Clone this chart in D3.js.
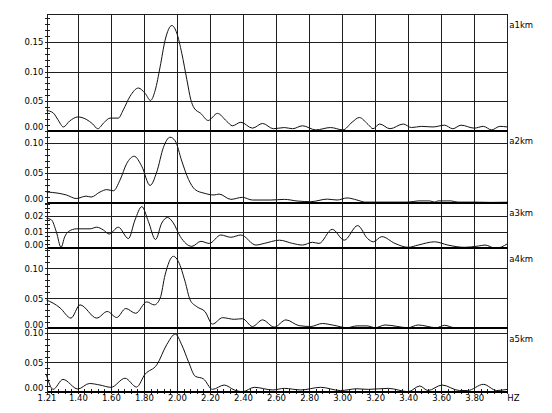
<!DOCTYPE html>
<html>
<head>
<meta charset="utf-8">
<script src="https://cdn.jsdelivr.net/npm/d3@7"></script>
<style>
body { margin: 0; background: #fff; }
text { font-family: "DejaVu Sans"; font-size: 8.5px; fill: #000; }
</style>
</head>
<body>
<div id="chart"></div>
<script>
// Data (Hz, amplitude)
var names = ["a1km", "a2km", "a3km", "a4km", "a5km"];

var a1km = [[1.21,0.034],[1.25,0.030],[1.28,0.018],[1.312,0.006],[1.35,0.016],[1.40,0.023],[1.45,0.019],
	[1.49,0.011],[1.52,0.003],[1.56,0.014],[1.595,0.021],[1.645,0.021],[1.675,0.035],[1.716,0.058],
	[1.766,0.072],[1.807,0.063],[1.84,0.051],[1.868,0.068],[1.898,0.108],[1.928,0.153],[1.969,0.178],
	[1.999,0.165],[2.029,0.131],[2.06,0.086],[2.084,0.052],[2.104,0.038],[2.144,0.029],[2.189,0.017],
	[2.245,0.029],[2.30,0.016],[2.336,0.008],[2.387,0.014],[2.457,0.004],[2.518,0.012],[2.584,0.003],
	[2.65,0.005],[2.70,0.003],[2.76,0.008],[2.84,0.001],[2.93,0.005],[3.005,0.001],[3.06,0.014],
	[3.104,0.022],[3.158,0.010],[3.187,0.003],[3.227,0.011],[3.29,0.003],[3.37,0.011],[3.42,0.005],
	[3.48,0.007],[3.55,0.006],[3.62,0.009],[3.67,0.003],[3.72,0.009],[3.80,0.004],[3.855,0.007],
	[3.905,0.001],[3.955,0.007],[4.00,0.006]];

var a2km = [[1.21,0.018],[1.28,0.016],[1.33,0.013],[1.39,0.007],[1.45,0.011],[1.48,0.0095],[1.534,0.018],
	[1.575,0.022],[1.615,0.020],[1.655,0.038],[1.696,0.066],[1.741,0.078],[1.787,0.061],[1.837,0.029],
	[1.878,0.052],[1.918,0.093],[1.958,0.110],[1.989,0.104],[2.029,0.070],[2.07,0.039],[2.11,0.022],
	[2.164,0.016],[2.225,0.013],[2.255,0.0145],[2.326,0.0056],[2.396,0.009],[2.457,0.0045],[2.568,0.0045],
	[2.65,0.0056],[2.73,0.0028],[2.81,0.0017],[2.91,0.006],[2.97,0.0045],[3.03,0.008],[3.09,0.0045],
	[3.14,0.001],[3.25,0.001],[3.40,0.001],[3.46,0.003],[3.53,0.003],[3.56,0.001],[3.58,0.003],
	[3.66,0.003],[3.70,0.001],[3.80,0.001],[3.90,0.0005],[4.00,0.0008]];

var a3km = [[1.21,0.0185],[1.24,0.0175],[1.27,0.010],[1.298,0.0006],[1.32,0.007],[1.342,0.0103],[1.393,0.012],
	[1.474,0.012],[1.514,0.013],[1.554,0.0113],[1.589,0.0088],[1.645,0.013],[1.706,0.006],[1.746,0.0175],
	[1.787,0.0257],[1.827,0.0165],[1.87,0.0054],[1.908,0.0156],[1.942,0.019],[1.978,0.0156],[2.019,0.0074],
	[2.09,0.0012],[2.145,0.0043],[2.195,0.003],[2.266,0.0082],[2.326,0.0068],[2.387,0.0082],[2.478,0.002],
	[2.528,0.003],[2.62,0.005],[2.70,0.003],[2.76,0.002],[2.82,0.0037],[2.86,0.003],[2.94,0.0117],
	[3.013,0.005],[3.094,0.014],[3.154,0.006],[3.189,0.004],[3.24,0.0072],[3.32,0.003],[3.40,0.0006],
	[3.46,0.002],[3.56,0.004],[3.64,0.002],[3.74,0.0006],[3.825,0.0014],[3.865,0.002],[3.93,0.0],
	[4.00,0.0027]];

var a4km = [[1.21,0.047],[1.25,0.042],[1.292,0.034],[1.358,0.017],[1.413,0.039],[1.514,0.017],[1.578,0.028],
	[1.635,0.018],[1.69,0.033],[1.75,0.025],[1.817,0.044],[1.862,0.039],[1.898,0.050],[1.928,0.089],
	[1.978,0.120],[2.009,0.111],[2.049,0.078],[2.08,0.047],[2.12,0.036],[2.17,0.0277],[2.215,0.007],
	[2.276,0.0177],[2.347,0.015],[2.397,0.016],[2.457,0.003],[2.518,0.014],[2.589,0.002],[2.66,0.014],
	[2.74,0.0044],[2.81,0.003],[2.88,0.008],[2.95,0.005],[3.03,0.001],[3.09,0.004],[3.15,0.004],
	[3.20,0.001],[3.26,0.0055],[3.40,0.001],[3.46,0.0055],[3.57,0.001],[3.62,0.005],[3.68,0.001],
	[4.00,0.001]];

var a5km = [[1.21,0.0285],[1.25,0.004],[1.31,0.021],[1.40,0.0046],[1.47,0.014],[1.534,0.0114],[1.60,0.0075],
	[1.686,0.023],[1.755,0.008],[1.807,0.030],[1.878,0.046],[1.939,0.081],[1.99,0.0985],[2.029,0.080],
	[2.07,0.051],[2.11,0.0265],[2.16,0.022],[2.215,0.004],[2.286,0.0114],[2.347,0.003],[2.397,0.0],
	[2.468,0.0075],[2.58,0.003],[2.65,0.0057],[2.75,0.003],[2.87,0.0075],[2.99,0.002],[3.09,0.005],
	[3.158,0.004],[3.28,0.0057],[3.40,0.0],[3.47,0.0097],[3.52,0.002],[3.605,0.0114],[3.71,0.002],
	[3.76,0.002],[3.855,0.0126],[3.936,0.002],[4.00,0.004]];

var series = [a1km, a2km, a3km, a4km, a5km];

// top of each panel's value range
var yMax = [0.1975, 0.1213, 0.0281, 0.1333, 0.1084];
var yTicks = [[0, 0.05, 0.10, 0.15], [0, 0.05, 0.10], [0, 0.01, 0.02], [0, 0.05, 0.10], [0, 0.05, 0.10]];
var yMinorStep = [0.01, 0.01, 0.0025, 0.01, 0.01];

var xTicks = [1.21, 1.40, 1.60, 1.80, 2.00, 2.20, 2.40, 2.60, 2.80, 3.00, 3.20, 3.40, 3.60, 3.80];
var xMinorStep = 0.04;

// Geometry
var w = 552, h = 413;
var left = 46.5, right = 507.3;
var edges = [14, 130.5, 202.7, 248.3, 328.3, 391.7];
var bottom = edges[edges.length - 1];

var svg = d3.select("#chart")
	.append("svg")
		.attr("width", w)
		.attr("height", h);

svg.append("rect").attr("width", w).attr("height", h).attr("fill", "#fff");

var x = d3.scaleLinear()
	.domain([1.21, 4.00])
	.range([left, right]);

function crisp(v) { return Math.round(v) + 0.5; }

var grid = svg.append("g")
	.attr("stroke", "#1e1e1e")
	.attr("stroke-width", 1)
	.attr("shape-rendering", "crispEdges");

// vertical grid
grid.selectAll(".vgrid")
	.data(xTicks.slice(1).concat([4.00]))
	.enter()
	.append("line")
	.attr("x1", function(d){ return crisp(x(d)); })
	.attr("x2", function(d){ return crisp(x(d)); })
	.attr("y1", edges[0])
	.attr("y2", bottom + 2);

// left axis line and top border
grid.append("line")
	.attr("x1", crisp(left)).attr("x2", crisp(left))
	.attr("y1", edges[0]).attr("y2", bottom + 2);
grid.append("line")
	.attr("x1", crisp(left)).attr("x2", crisp(right))
	.attr("y1", crisp(edges[0])).attr("y2", crisp(edges[0]));

var line = d3.line()
	.x(function(d){ return x(d[0]); })
	.curve(d3.curveMonotoneX);

series.forEach(function(data, i){
	var top = edges[i], zero = edges[i + 1];
	var y = d3.scaleLinear()
		.domain([0, yMax[i]])
		.range([zero, top]);

	// horizontal grid
	grid.selectAll(".hgrid" + i)
		.data(yTicks[i].slice(1))
		.enter()
		.append("line")
		.attr("x1", crisp(left))
		.attr("x2", crisp(right))
		.attr("y1", function(d){ return crisp(y(d)); })
		.attr("y2", function(d){ return crisp(y(d)); });

	// minor ticks on left axis
	var minors = d3.range(yMinorStep[i], yMax[i], yMinorStep[i]);
	grid.selectAll(".ymin" + i)
		.data(minors)
		.enter()
		.append("line")
		.attr("x1", crisp(left) - 2.5)
		.attr("x2", crisp(left) + 2.5)
		.attr("y1", function(d){ return crisp(y(d)); })
		.attr("y2", function(d){ return crisp(y(d)); });

	// tick labels
	var yAxis = d3.axisLeft(y)
		.tickValues(yTicks[i])
		.tickFormat(d3.format(".2f"))
		.tickSize(3)
		.tickPadding(1.2);

	var gY = svg.append("g")
		.attr("transform", "translate(" + crisp(left) + ",0)")
		.call(yAxis);
	gY.select(".domain").remove();
	gY.selectAll("line").attr("stroke", "#1e1e1e").attr("shape-rendering", "crispEdges");
	gY.selectAll("text")
		.attr("font-family", "DejaVu Sans")
		.attr("font-size", 8.5)
		.attr("fill", "#000")
		.attr("dy", function(d){ return d === 0 ? "-0.1em" : "0.32em"; });

	// the spectrum
	svg.append("path")
		.datum(data)
		.attr("fill", "none")
		.attr("stroke", "#111")
		.attr("stroke-width", 1)
		.attr("d", line.y(function(d){ return y(d[1]); }));

	// zero line
	svg.append("line")
		.attr("x1", crisp(left)).attr("x2", crisp(right))
		.attr("y1", Math.round(zero)).attr("y2", Math.round(zero))
		.attr("stroke", "#000")
		.attr("stroke-width", i < 4 ? 2 : 1.5)
		.attr("shape-rendering", "crispEdges");

	// panel name
	svg.append("text")
		.attr("x", right + 2)
		.attr("y", top + 13.5)
		.text(names[i]);
});

// x minor ticks along the bottom
var xMinor = d3.range(1.24, 4.0, xMinorStep).filter(function(d){
	return Math.abs((d - 1.40) / 0.2 - Math.round((d - 1.40) / 0.2)) > 0.01;
});
grid.selectAll(".xmin")
	.data(xMinor)
	.enter()
	.append("line")
	.attr("x1", function(d){ return crisp(x(d)); })
	.attr("x2", function(d){ return crisp(x(d)); })
	.attr("y1", bottom - 3)
	.attr("y2", bottom + 2);

// x labels
var xAxis = d3.axisBottom(x)
	.tickValues(xTicks)
	.tickFormat(d3.format(".2f"))
	.tickSize(0)
	.tickPadding(3.4);

var gX = svg.append("g")
	.attr("transform", "translate(0," + bottom + ")")
	.call(xAxis);
gX.select(".domain").remove();
gX.selectAll("text")
	.attr("font-family", "DejaVu Sans")
	.attr("font-size", 8.5)
	.attr("fill", "#000");

svg.append("text")
	.attr("x", right)
	.attr("y", 401)
	.text("HZ");
</script>
</body>
</html>
